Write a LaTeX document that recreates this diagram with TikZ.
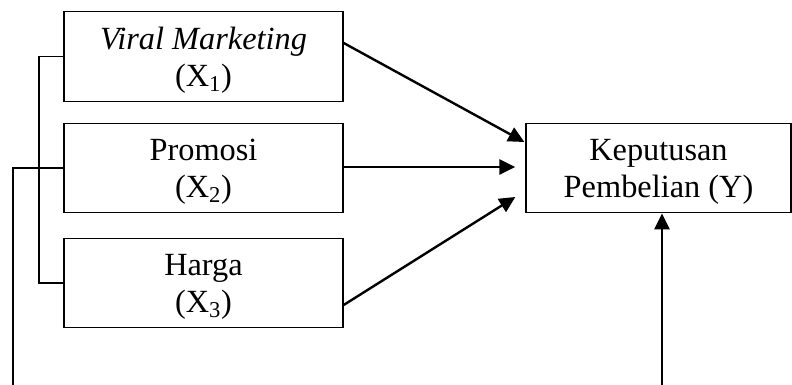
\documentclass[tikz,border=0pt]{standalone}
\usepackage{fontspec}
\setmainfont{Liberation Serif}
\usetikzlibrary{arrows.meta, calc, positioning}

\begin{document}
\begin{tikzpicture}[
    x=0.025cm, y=-0.025cm,
    varbox/.style={draw, line width=0.9pt, minimum width=#1, minimum height=2.24cm, align=center, font=\fontsize{23}{26.3}\selectfont, inner sep=0pt, text depth=0pt},
    path/.style={line width=1.7pt, -{Triangle[length=0.4cm, width=0.38cm]}},
    link/.style={line width=1.3pt}
]
    \useasboundingbox (0,0) rectangle (792,385);

    % Independent variables
    \node[varbox=6.975cm] (x1) at (203.5,56.5) {\textit{Viral Marketing}\\(X\textsubscript{1})};
    \node[varbox=6.975cm] (x2) at (203.5,168) {Promosi\\(X\textsubscript{2})};
    \node[varbox=6.975cm] (x3) at (203.5,283) {Harga\\(X\textsubscript{3})};

    % Dependent variable
    \node[varbox=6.625cm] (y) at (658.5,168) {Keputusan\\Pembelian (Y)};

    % Free ends
    \coordinate (lbot) at (13,385);
    \coordinate (ybot) at (662,385);

    % Partial effects
    \draw[path] ($(x1.east)+(0,-13.5)$) -- ($(y.west)+(-1,-26)$);
    \draw[path] ($(x2.east)+(0,-1)$) -- ($(y.west)+(-10,-1)$);
    \draw[path] ($(x3.east)+(0,22)$) -- ($(y.west)+(-10,29)$);

    % Simultaneous effect
    \draw[link] (x1.west) -- ++(-24,0) |- (x3.west);
    \draw[link] (lbot) |- (x2.west);
    \draw[path] (ybot) -- (ybot |- y.south);
\end{tikzpicture}
\end{document}
